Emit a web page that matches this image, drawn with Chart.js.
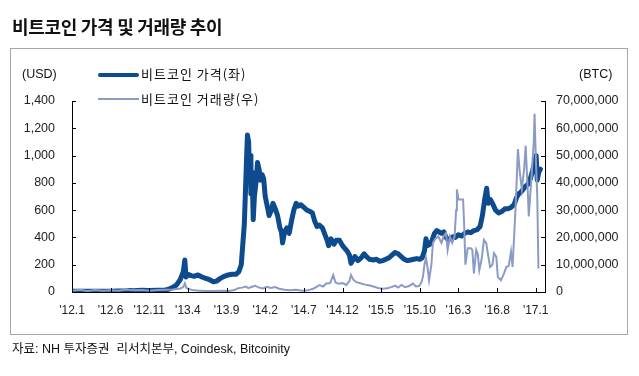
<!DOCTYPE html>
<html>
<head>
<meta charset="utf-8">
<script src="https://cdn.jsdelivr.net/npm/chart.js@4/dist/chart.umd.min.js"></script>
<style>
  html, body { margin: 0; padding: 0; background: #fff; }
  #wrap { position: relative; width: 639px; height: 376px; overflow: hidden; }
  #c { position: absolute; left: 0; top: 0; }
  .t { position: absolute; white-space: nowrap; line-height: 1; color: #111; }
  #title { left: 12px; top: 17px; font-family: "Noto Sans CJK KR", sans-serif; font-weight: 700; font-size: 18px; letter-spacing: -0.3px; }
  #box { position: absolute; left: 10px; top: 48px; width: 616px; height: 285px; border: 1px solid #a6a6a6; }
  #src { left: 12px; top: 343px; font-family: "Liberation Sans", "Noto Sans CJK KR", sans-serif; font-size: 12.5px; }
  .unit { font-family: "Liberation Sans", sans-serif; font-size: 12.5px; top: 68px; }
  #usd { left: 22px; }
  #btc { left: 579px; }
  .lg { font-family: "Noto Sans CJK KR", sans-serif; font-size: 13px; letter-spacing: 1px; left: 141px; }
  .lgl { position: absolute; left: 98px; width: 41px; }
</style>
</head>
<body>
<div id="wrap">
  <div id="box"></div>
  <canvas id="c" width="639" height="376"></canvas>
  <div class="t" id="title">비트코인 가격 및 거래량 추이</div>
  <div class="t unit" id="usd">(USD)</div>
  <div class="t unit" id="btc">(BTC)</div>
  <div class="lgl" style="top:73px;height:4px;background:#0d4a8e;border-radius:2px;"></div>
  <div class="t lg" style="top:67px;">비트코인 가격(좌)</div>
  <div class="lgl" style="top:98px;height:2px;background:#8a9bc6;"></div>
  <div class="t lg" style="top:92px;">비트코인 거래량(우)</div>
  <div class="t" id="src">자료: NH 투자증권&nbsp; 리서치본부, Coindesk, Bitcoinity</div>
</div>
<script>
// x positions are month indices counted from Jan 2012 (0 = '12.1)
const tickMonths = [0, 5, 10, 15, 20, 25, 30, 35, 40, 45, 50, 55, 60];
const tickLabels = ["'12.1", "'12.6", "'12.11", "'13.4", "'13.9", "'14.2", "'14.7", "'14.12", "'15.5", "'15.10", "'16.3", "'16.8", "'17.1"];

const priceMonth = [0,1,2,3,4,5,6,7,7.5,8,9,10,11,12,12.5,13,13.5,14,14.4,14.6,14.75,15,15.4,15.8,16.3,16.8,17.3,17.8,18.3,18.7,19.2,19.7,20.2,20.7,21.2,21.6,21.9,22.1,22.3,22.45,22.6,22.7,22.85,22.95,23.05,23.15,23.3,23.45,23.6,23.8,24.0,24.2,24.4,24.6,24.8,25.0,25.3,25.5,25.8,26.0,26.3,26.6,26.9,27.1,27.25,27.5,27.8,28.1,28.4,28.7,29.0,29.3,29.6,30.0,30.4,30.8,31.1,31.4,31.7,32.0,32.4,32.8,33.0,33.2,33.5,33.9,34.2,34.6,35.0,35.3,35.6,35.9,36.1,36.3,36.6,37.0,37.4,37.8,38.1,38.5,39.0,39.4,39.8,40.2,40.6,41.0,41.4,41.8,42.2,42.6,43.0,43.4,43.8,44.2,44.6,45.0,45.3,45.6,45.8,46.0,46.3,46.6,46.9,47.2,47.5,47.8,48.1,48.4,48.7,49.0,49.3,49.6,50.0,50.4,50.8,51.2,51.6,52.0,52.4,52.8,53.1,53.4,53.65,53.85,54.1,54.4,54.8,55.2,55.6,56.0,56.4,56.8,57.2,57.5,57.8,58.2,58.6,59.0,59.3,59.6,59.9,60.05,60.2,60.4,60.6];
const priceUsd = [6,5.5,5,5,5,5.2,6.5,8,11,10,12,11,12.5,13.5,20,32,50,90,150,234,110,130,120,115,125,110,100,90,75,80,100,115,125,130,130,150,200,350,500,750,1000,1150,1100,900,1000,720,880,530,700,800,950,900,820,860,830,700,620,560,600,650,610,560,470,440,360,440,470,430,520,600,650,630,640,620,600,590,580,520,480,490,470,410,380,340,390,350,380,380,340,320,300,270,210,230,260,230,250,280,260,240,235,240,225,230,240,250,270,290,280,260,240,230,235,240,245,240,250,300,390,340,350,380,430,450,440,430,440,400,380,395,405,400,420,410,430,440,435,450,455,480,560,680,760,650,680,650,600,580,590,610,610,620,640,690,720,740,770,790,830,890,960,1000,820,880,900];

const volMonth = [0,1,2,3,4,5,6,7,8,9,10,11,12,13,14,14.4,14.6,14.8,15.2,15.8,16.5,17.5,18.5,19.5,20.3,21,21.5,22,22.5,22.8,23.3,23.7,24.2,24.7,25.2,25.7,26.3,26.8,27.5,28.2,29,29.8,30.5,31.2,31.6,32.0,32.5,32.9,33.4,33.8,34.1,34.5,35.0,35.5,35.9,36.1,36.4,36.8,37.3,37.8,38.4,39.0,39.6,40.2,40.8,41.3,41.8,42.2,42.6,43.1,43.6,44.1,44.5,44.9,45.2,45.4,45.6,45.8,46.0,46.2,46.5,46.7,47.0,47.4,47.8,48.1,48.4,48.6,48.9,49.2,49.5,49.7,49.8,50.0,50.3,50.6,50.75,50.9,51.2,51.6,51.8,52.0,52.3,52.5,52.7,53.0,53.3,53.6,53.8,54.1,54.4,54.6,54.9,55.1,55.5,55.9,56.2,56.5,56.8,57.0,57.2,57.4,57.7,57.9,58.2,58.5,58.7,59.0,59.1,59.4,59.6,59.75,59.85,59.95,60.05,60.2,60.35];
const volBtc = [0.5,0.8,0.4,0.7,0.5,0.6,0.5,0.9,0.6,0.7,0.5,0.7,0.8,0.9,1.3,1.8,3.2,1.5,1.0,0.6,0.5,0.4,0.4,0.5,0.4,0.7,1.4,1.6,2.0,1.4,1.9,2.3,1.6,1.3,1.9,1.5,1.8,1.2,0.8,0.6,0.8,0.5,0.6,1.2,1.8,2.5,2.0,3.1,3.3,6.2,3.5,3.0,3.3,2.6,4.0,6.2,4.5,3.6,3.2,2.8,2.5,2.0,1.5,1.2,1.4,1.8,2.3,1.6,2.6,1.8,2.2,3.1,2.0,2.2,3.5,5.5,10,12.5,9,4.3,10,18,19.5,20.3,18,20.5,21.6,15.4,20.3,18,20.3,30,37.6,34,33.9,33.9,24,10,16,16,15.4,6.8,15.4,14,8,12,19.1,17.9,14.2,9.2,10,14.2,12.9,5.5,4.3,6.8,9.2,9.5,14.8,9.2,20,31.4,52.4,45,37.6,45,53.6,35,27.7,40,48.7,55,65.3,55,46.2,35,8.6]; // millions of BTC

const priceColor = '#0d4a8e';
const volColor = '#8a9bc6';

const pricePts = priceMonth.map((m, i) => ({ x: m, y: priceUsd[i] }));
const volPts = volMonth.map((m, i) => ({ x: m, y: volBtc[i] * 1e6 }));

const inwardTicks = {
  id: 'inwardTicks',
  afterDraw(chart) {
    const ctx = chart.ctx;
    ctx.save();
    ctx.strokeStyle = '#000';
    ctx.lineWidth = 1;
    const yl = chart.scales.y, yr = chart.scales.y2, xs = chart.scales.x;
    ctx.beginPath();
    yl.ticks.forEach(t => { const p = Math.round(yl.getPixelForValue(t.value)) + 0.5; ctx.moveTo(yl.right, p); ctx.lineTo(yl.right + 4, p); });
    yr.ticks.forEach(t => { const p = Math.round(yr.getPixelForValue(t.value)) + 0.5; ctx.moveTo(yr.left - 4, p); ctx.lineTo(yr.left, p); });
    xs.ticks.forEach(t => { const p = Math.round(xs.getPixelForValue(t.value)) + 0.5; ctx.moveTo(p, xs.top); ctx.lineTo(p, xs.top - 4); });
    ctx.stroke();
    ctx.restore();
  }
};

const tickFont = { family: '"Liberation Sans", Arial, sans-serif', size: 12.5 };

new Chart(document.getElementById('c'), {
  type: 'line',
  data: {
    datasets: [
      { label: '비트코인 거래량(우)', data: volPts, yAxisID: 'y2', borderColor: volColor, borderWidth: 2, pointRadius: 0, tension: 0, order: 0 },
      { label: '비트코인 가격(좌)', data: pricePts, yAxisID: 'y', borderColor: priceColor, borderWidth: 5, pointRadius: 0, tension: 0, borderCapStyle: 'round', borderJoinStyle: 'round', order: 1 }
    ]
  },
  options: {
    responsive: false,
    animation: false,
    devicePixelRatio: 1,
    layout: { padding: { top: 101, left: 0, right: 0, bottom: 0 } },
    plugins: { legend: { display: false }, tooltip: { enabled: false } },
    scales: {
      x: {
        type: 'linear', min: 0, max: 61.2,
        afterBuildTicks: s => { s.ticks = tickMonths.map(v => ({ value: v })); },
        afterFit: s => { s.height = 84; },
        grid: { drawOnChartArea: false, drawTicks: false },
        border: { display: true, color: '#000', width: 1 },
        ticks: { padding: 11, color: '#222', font: { family: tickFont.family, size: 12 }, maxRotation: 0, autoSkip: false,
          callback: v => { const i = tickMonths.indexOf(v); return i >= 0 ? tickLabels[i] : ''; } }
      },
      y: {
        position: 'left', min: 0, max: 1400,
        afterBuildTicks: s => { s.ticks = [0,200,400,600,800,1000,1200,1400].map(v => ({ value: v })); },
        afterFit: s => { s.width = 72; },
        grid: { drawOnChartArea: false, drawTicks: false },
        border: { display: true, color: '#000', width: 1 },
        ticks: { padding: 17, color: '#222', font: tickFont, callback: v => v.toLocaleString('en-US') }
      },
      y2: {
        position: 'right', min: 0, max: 70000000,
        afterBuildTicks: s => { s.ticks = [0,1e7,2e7,3e7,4e7,5e7,6e7,7e7].map(v => ({ value: v })); },
        afterFit: s => { s.width = 94; },
        grid: { drawOnChartArea: false, drawTicks: false },
        border: { display: true, color: '#000', width: 1 },
        ticks: { padding: 11, color: '#222', font: tickFont, callback: v => v.toLocaleString('en-US') }
      }
    }
  },
  plugins: [inwardTicks]
});
</script>
</body>
</html>
